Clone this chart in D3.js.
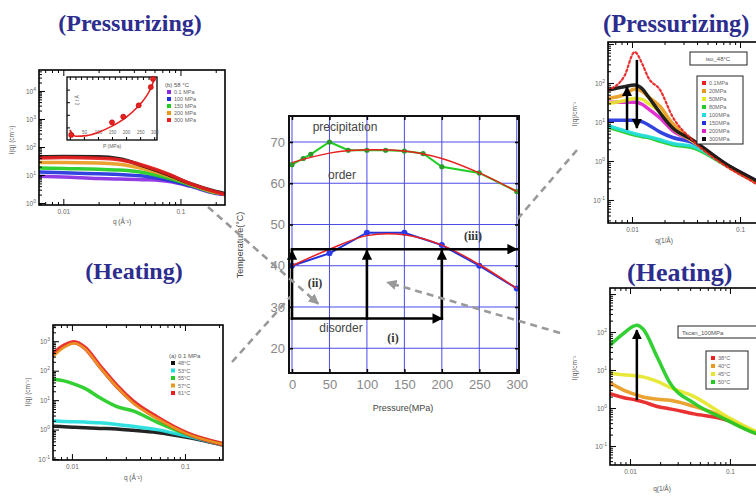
<!doctype html>
<html>
<head>
<meta charset="utf-8">
<title>phase diagram with SANS panels</title>
<script src="https://cdn.jsdelivr.net/npm/d3@7"></script>
<style>
  body { margin: 0; background: #fff; }
  svg { display: block; }
  text { font-family: "Liberation Sans", Arial, sans-serif; }
  .ttl { font-family: "Liberation Serif", "Times New Roman", serif; font-weight: bold; fill: #2d2d8e; }
  .roman { font-family: "Liberation Serif", "Times New Roman", serif; font-weight: bold; fill: #333; }
</style>
</head>
<body>
<script>
// ---- centre chart: temperature vs pressure
var pressureTicks = [0, 50, 100, 150, 200, 250, 300];
var tempTicks = [20, 30, 40, 50, 60, 70];
var upperP = [0, 15, 25, 50, 75, 100, 125, 150, 175, 200, 250, 300];
var upperT = [64.5, 66, 67, 70, 68, 68, 68, 67.8, 67.2, 64, 62.5, 58];
var fitP = [0, 50, 100, 150, 200, 250, 300];
var upperFitT = [65, 67.3, 68.1, 67.8, 66, 62.5, 58];
var lowerP = [0, 50, 100, 150, 200, 250, 300];
var lowerT = [40, 43, 48, 48, 45, 40, 34.5];
var lowerFitT = [40, 44, 47.3, 47.5, 45, 40.3, 34.5];
var pathHighT = 44, pathLowT = 27.2;
var pathRiseP = [0, 100, 200];

// ---- top left: pressurizing at 58 C
var tlQ = [0.006, 0.01, 0.02, 0.03, 0.05, 0.08, 0.12, 0.2, 0.24];
var tlBlack = [45, 46, 45, 38, 20, 10, 5, 2.6, 2.2];
var tlRed = [40, 42, 40, 35, 21, 10.5, 5, 2.5, 2];
var tlOrange = [28, 28, 27, 24, 16, 9, 4.8, 2.4, 2.1];
var tlGreen = [18, 17, 16, 15, 12, 7.5, 4.5, 2.3, 2.1];
var tlBlue = [13, 12, 11, 10.5, 9, 6.5, 4.2, 2.3, 2];
var tlPurple = [9, 8.5, 7.5, 7.2, 6.8, 5.8, 4, 2.2, 2];
var tlLegend = ["0.1 MPa", "100 MPa", "150 MPa", "200 MPa", "300 MPa"];
var insetP = [0, 20, 60, 100, 150, 200, 240, 270, 290, 300];
var insetXi = [16, 6, 7, 12, 22, 36, 52, 68, 84, 97];
var insetMarkP = [5, 150, 190, 245, 288, 296];
var insetMarkXi = [8, 28, 37, 55, 84, 97];

// ---- bottom left: heating at 0.1 MPa
var blQ = [0.0068, 0.0085, 0.0105, 0.013, 0.0177, 0.025, 0.0347, 0.0565, 0.104, 0.217];
var blRed = [360, 700, 930, 600, 140, 30, 9, 2.6, 0.75, 0.32];
var blOrange = [300, 620, 850, 560, 130, 28, 8, 2.4, 0.72, 0.32];
var blGreen = [51, 45, 35, 25, 12, 6, 4.3, 1.8, 0.7, 0.32];
var blCyan = [2, 1.9, 1.85, 1.8, 1.7, 1.5, 1.3, 1, 0.6, 0.3];
var blBlack = [1.3, 1.25, 1.2, 1.15, 1.1, 1.05, 0.95, 0.8, 0.55, 0.3];
var blLegend = ["48°C", "53°C", "55°C", "57°C", "61°C"];

// ---- top right: pressurizing at 48 C
var trQ = [0.006, 0.0085, 0.0106, 0.0125, 0.0141, 0.0182, 0.0238, 0.036, 0.076, 0.137, 0.153];
var trRed = [66, 150, 620, 300, 140, 66, 13.5, 3.5, 0.7, 0.27, 0.22];
var trOrange = [40, 50, 70, 60, 45, 25, 9, 3.5, 0.75, 0.3, 0.25];
var trYellow = [30, 35, 40, 38, 30, 18, 7, 3.3, 0.75, 0.3, 0.25];
var trGreen = [7.4, 5.5, 4.6, 4.2, 4, 3.2, 2.6, 2.2, 0.74, 0.3, 0.26];
var trCyan = [8, 6, 5, 4.5, 4.2, 3.5, 2.8, 2.4, 0.75, 0.3, 0.26];
var trBlue = [11, 11, 11, 10, 8.5, 5.5, 4, 3, 0.78, 0.32, 0.27];
var trMagenta = [32, 32, 32, 28, 22, 12.6, 6, 3.3, 0.78, 0.32, 0.27];
var trBlack = [66, 80, 89, 70, 45, 17, 7, 3.5, 0.8, 0.33, 0.28];
var trLegend = ["0.1MPa", "20MPa", "50MPa", "80MPa", "100MPa", "150MPa", "200MPa", "300MPa"];

// ---- bottom right: heating at 100 MPa
var brQ = [0.0063, 0.0085, 0.0117, 0.0135, 0.0187, 0.0251, 0.0437, 0.093, 0.178, 0.2];
var brGreen = [45, 90, 152, 120, 22, 4.6, 1.35, 0.48, 0.22, 0.2];
var brYellow = [8.3, 7.5, 7, 6.6, 5, 3.5, 2, 0.6, 0.25, 0.22];
var brOrange = [4.6, 3, 2.2, 1.95, 1.7, 1.6, 1.1, 0.55, 0.24, 0.22];
var brRed = [2.4, 1.9, 1.6, 1.45, 1.1, 0.95, 0.7, 0.48, 0.22, 0.2];
var brLegend = ["38°C", "40°C", "45°C", "50°C"];

var C = {
  purple: "#8a2be2", blue: "#2233dd", green: "#22cc22", orange: "#e89a20",
  red: "#e82020", black: "#111", cyan: "#22dddd", yellow: "#e6e62a", magenta: "#dd22cc"
};

var svg = d3.select("body").append("svg").attr("width", 756).attr("height", 496);
svg.append("rect").attr("width", 756).attr("height", 496).attr("fill", "#fff");
var defs = svg.append("defs");

function marker(id, color) {
  defs.append("marker").attr("id", id)
    .attr("viewBox", "0 0 10 10").attr("refX", 9).attr("refY", 5)
    .attr("markerWidth", 4).attr("markerHeight", 4).attr("orient", "auto")
    .append("path").attr("d", "M0,0L10,5L0,10z").attr("fill", color);
}
marker("ah", "#000");
marker("ahg", "#999");

// ---------- titles
svg.append("text").attr("class", "ttl").attr("x", 130).attr("y", 31).attr("text-anchor", "middle")
  .attr("font-size", 24).text("(Pressurizing)");
svg.append("text").attr("class", "ttl").attr("x", 134).attr("y", 279).attr("text-anchor", "middle")
  .attr("font-size", 24).text("(Heating)");
svg.append("text").attr("class", "ttl").attr("x", 603).attr("y", 32)
  .attr("font-size", 24.5).text("(Pressurizing)");
svg.append("text").attr("class", "ttl").attr("x", 627).attr("y", 281)
  .attr("font-size", 26).text("(Heating)");

// ---------- side panels
function supLabel(sel, exps) {
  sel.selectAll(".tick text").each(function(d) {
    var t = d3.select(this);
    var e = Math.round(Math.log10(d));
    t.text("");
    if (Math.abs(Math.log10(d) - e) < 1e-6 && exps.indexOf(e) >= 0) {
      t.append("tspan").text("10");
      t.append("tspan").attr("dy", -3).attr("font-size", 5).text(e);
    }
  });
}

function logPanel(o) {
  var g = svg.append("g");
  var x = d3.scaleLog().domain(o.qDom).range([o.x0, o.x1]);
  var y = d3.scaleLog().domain(o.iDom).range([o.y1, o.y0]);
  defs.append("clipPath").attr("id", "clip" + o.id).append("rect")
    .attr("x", o.x0).attr("y", o.y0).attr("width", o.x1 - o.x0).attr("height", o.y1 - o.y0);

  var line = d3.line().x(function(d) { return x(d[0]); }).y(function(d) { return y(d[1]); })
    .curve(d3.curveMonotoneX);
  var plot = g.append("g").attr("clip-path", "url(#clip" + o.id + ")");
  o.curves.forEach(function(c) {
    plot.append("path").attr("d", line(d3.zip(o.q, c.v)))
      .attr("fill", "none").attr("stroke", c.color).attr("stroke-width", c.w || 3.5)
      .attr("stroke-linecap", "round").attr("stroke-linejoin", "round")
      .attr("stroke-dasharray", c.dash || null).attr("opacity", 0.92);
  });

  // ticks through d3 axes, drawn inward
  var xt = x.ticks(), yt = y.ticks();
  var isDec = function(d) { return Math.abs(Math.log10(d) - Math.round(Math.log10(d))) < 1e-6; };
  var xa = g.append("g").attr("transform", "translate(0," + o.y1 + ")")
    .call(d3.axisBottom(x).tickValues(xt).tickSize(-3).tickPadding(4)
      .tickFormat(function(d) { return o.xLabels.indexOf(d) >= 0 ? String(d) : ""; }));
  xa.selectAll(".tick line").attr("y2", function(d) { return isDec(d) ? -6 : -3; });
  g.append("g").attr("transform", "translate(0," + o.y0 + ")")
    .call(d3.axisTop(x).tickValues(xt).tickSize(-3).tickFormat(""))
    .selectAll(".tick line").attr("y2", function(d) { return isDec(d) ? 6 : 3; });
  var ya = g.append("g").attr("transform", "translate(" + o.x0 + ",0)")
    .call(d3.axisLeft(y).tickValues(yt).tickSize(-3).tickPadding(3));
  ya.selectAll(".tick line").attr("x2", function(d) { return isDec(d) ? 6 : 3; });
  supLabel(ya, o.yExps);
  g.selectAll(".domain").remove();
  g.selectAll(".tick text").attr("font-size", 6.5).attr("fill", "#666");
  g.selectAll(".tick line").attr("stroke", "#000").attr("stroke-width", 1);

  g.append("rect").attr("x", o.x0).attr("y", o.y0).attr("width", o.x1 - o.x0).attr("height", o.y1 - o.y0)
    .attr("fill", "none").attr("stroke", "#000").attr("stroke-width", 1.6);

  g.append("text").attr("x", o.xt[0]).attr("y", o.xt[1]).attr("text-anchor", "middle")
    .attr("font-size", 6.5).attr("fill", "#555").text(o.xTitle);
  g.append("text").attr("transform", "translate(" + o.yt[0] + "," + o.yt[1] + ") rotate(-90)")
    .attr("text-anchor", "middle").attr("font-size", 6.5).attr("fill", "#555").text(o.yTitle);
  return { g: g, x: x, y: y };
}

function legend(g, x0, y0, dy, names, colors, head, box) {
  if (box) {
    g.append("rect").attr("x", box[0]).attr("y", box[1]).attr("width", box[2]).attr("height", box[3])
      .attr("fill", "#fff").attr("stroke", "#222").attr("stroke-width", 1);
  }
  if (head) {
    g.append("text").attr("x", x0 - 4).attr("y", y0 - dy + 2).attr("font-size", 6).attr("fill", "#555").text(head);
  }
  names.forEach(function(n, i) {
    g.append("rect").attr("x", x0 - 2).attr("y", y0 + i * dy - 2).attr("width", 4).attr("height", 4)
      .attr("fill", colors[i]);
    g.append("text").attr("x", x0 + 5).attr("y", y0 + i * dy + 2).attr("font-size", 5.5)
      .attr("fill", "#666").text(n);
  });
}

// top left
var tl = logPanel({
  id: "tl", x0: 39, x1: 225, y0: 70, y1: 205,
  qDom: [0.0062, 0.24], iDom: [0.85, 56000],
  q: tlQ,
  curves: [
    { v: tlPurple, color: C.purple }, { v: tlBlue, color: C.blue }, { v: tlGreen, color: C.green },
    { v: tlOrange, color: C.orange }, { v: tlBlack, color: C.black }, { v: tlRed, color: C.red }
  ],
  xLabels: [0.01, 0.1], yExps: [0, 1, 2, 3, 4],
  xTitle: "q (Å⁻¹)", xt: [122, 224], yTitle: "I(q) (cm⁻¹)", yt: [14, 140]
});
legend(tl.g, 169, 92, 7, tlLegend, [C.purple, C.blue, C.green, C.orange, C.red], "(b) 58 °C");

// inset of top left
var ix = d3.scaleLinear().domain([-10, 310]).range([67, 157]);
var iy = d3.scaleLinear().domain([0, 100]).range([140, 77]);
var ins = tl.g.append("g");
ins.append("rect").attr("x", 67).attr("y", 77).attr("width", 90).attr("height", 63)
  .attr("fill", "#fff").attr("stroke", "#000").attr("stroke-width", 1.3);
ins.append("g").attr("transform", "translate(0,140)")
  .call(d3.axisBottom(ix).tickValues([0, 50, 100, 150, 200, 250, 300]).tickSize(-3).tickPadding(-9))
  .call(function(s) { s.select(".domain").remove(); s.selectAll("text").attr("font-size", 4.5).attr("fill", "#666"); });
ins.append("g").attr("transform", "translate(67,0)")
  .call(d3.axisLeft(iy).tickValues([20, 40, 60, 80]).tickSize(-3).tickFormat(""))
  .call(function(s) { s.select(".domain").remove(); });
ins.append("g").attr("transform", "translate(0,77)")
  .call(d3.axisTop(ix).ticks(12).tickSize(-3).tickFormat(""))
  .call(function(s) { s.select(".domain").remove(); });
ins.append("path").attr("d", d3.line().x(function(d) { return ix(d[0]); }).y(function(d) { return iy(d[1]); })
    .curve(d3.curveMonotoneX)(d3.zip(insetP, insetXi)))
  .attr("fill", "none").attr("stroke", C.red).attr("stroke-width", 1.6);
ins.selectAll("circle").data(d3.zip(insetMarkP, insetMarkXi)).enter().append("circle")
  .attr("cx", function(d) { return ix(d[0]); }).attr("cy", function(d) { return iy(d[1]); })
  .attr("r", 2.6).attr("fill", C.red).attr("stroke", "#a00").attr("stroke-width", 0.5);
ins.append("text").attr("transform", "translate(79,100) rotate(-90)").attr("text-anchor", "middle")
  .attr("font-size", 5).attr("fill", "#666").text("ξ / Å");
ins.append("text").attr("x", 112).attr("y", 148).attr("text-anchor", "middle")
  .attr("font-size", 5).attr("fill", "#666").text("P (MPa)");

// bottom left
var bl = logPanel({
  id: "bl", x0: 53, x1: 223, y0: 325, y1: 460,
  qDom: [0.0068, 0.217], iDom: [0.093, 3550],
  q: blQ,
  curves: [
    { v: blBlack, color: C.black }, { v: blCyan, color: C.cyan }, { v: blGreen, color: C.green },
    { v: blRed, color: C.red, w: 4.5 }, { v: blOrange, color: C.orange, w: 2.5 }
  ],
  xLabels: [0.01, 0.1], yExps: [-1, 0, 1, 2, 3],
  xTitle: "q (Å⁻¹)", xt: [133, 480], yTitle: "I(q) (cm⁻¹)", yt: [30, 392]
});
legend(bl.g, 173, 363, 7.5, blLegend, [C.black, C.cyan, C.green, C.orange, C.red], "(a) 0.1 MPa");

// top right
var tr = logPanel({
  id: "tr", x0: 608, x1: 760, y0: 42, y1: 223,
  qDom: [0.006, 0.153], iDom: [0.0257, 1122],
  q: trQ,
  curves: [
    { v: trGreen, color: C.green }, { v: trCyan, color: C.cyan }, { v: trBlue, color: C.blue },
    { v: trMagenta, color: C.magenta }, { v: trYellow, color: C.yellow }, { v: trOrange, color: C.orange },
    { v: trBlack, color: C.black }, { v: trRed, color: C.red, w: 2.2, dash: "2,2.5" }
  ],
  xLabels: [0.01, 0.1], yExps: [-1, 0, 1, 2],
  xTitle: "q(1/Å)", xt: [664, 243], yTitle: "I(q)/cm⁻¹", yt: [577, 114]
});
legend(tr.g, 704, 83, 8,
  trLegend, [C.red, C.orange, C.yellow, C.green, C.cyan, C.blue, C.magenta, C.black], null, [697, 76, 46, 68]);
tr.g.append("rect").attr("x", 690).attr("y", 52).attr("width", 57).attr("height", 13)
  .attr("fill", "#fff").attr("stroke", "#222");
tr.g.append("text").attr("x", 718).attr("y", 61).attr("text-anchor", "middle").attr("font-size", 6)
  .attr("fill", "#555").text("iso_48°C");
tr.g.append("line").attr("x1", tr.x(0.009)).attr("x2", tr.x(0.009)).attr("y1", tr.y(6.2)).attr("y2", tr.y(79))
  .attr("stroke", "#000").attr("stroke-width", 2.5).attr("marker-end", "url(#ah)");
tr.g.append("line").attr("x1", tr.x(0.0111)).attr("x2", tr.x(0.0111)).attr("y1", tr.y(390)).attr("y2", tr.y(7))
  .attr("stroke", "#000").attr("stroke-width", 2.5).attr("marker-end", "url(#ah)");

// bottom right
var br = logPanel({
  id: "br", x0: 610, x1: 760, y0: 288, y1: 465,
  qDom: [0.0063, 0.2], iDom: [0.0316, 1445],
  q: brQ,
  curves: [
    { v: brRed, color: C.red }, { v: brOrange, color: C.orange },
    { v: brYellow, color: C.yellow }, { v: brGreen, color: C.green }
  ],
  xLabels: [0.01, 0.1], yExps: [-1, 0, 1, 2],
  xTitle: "q(1/Å)", xt: [662, 491], yTitle: "I(q)/cm⁻¹", yt: [577, 368]
});
legend(br.g, 713, 358, 8, brLegend, [C.red, C.orange, C.yellow, C.green], null, [706, 351, 42, 38]);
br.g.append("rect").attr("x", 678).attr("y", 326).attr("width", 80).attr("height", 12)
  .attr("fill", "#fff").attr("stroke", "#222");
br.g.append("text").attr("x", 682).attr("y", 334.5).attr("font-size", 6)
  .attr("fill", "#555").text("Tscan_100MPa");
br.g.append("line").attr("x1", br.x(0.0117)).attr("x2", br.x(0.0117)).attr("y1", br.y(1.6)).attr("y2", br.y(112))
  .attr("stroke", "#000").attr("stroke-width", 2.5).attr("marker-end", "url(#ah)");

// ---------- centre chart
var cx = d3.scaleLinear().domain([-4, 303]).range([289, 519]);
var cy = d3.scaleLinear().domain([14, 76.3]).range([373, 116]);
var cg = svg.append("g");
cg.append("rect").attr("x", 289).attr("y", 116).attr("width", 230).attr("height", 257).attr("fill", "#fff");

cg.selectAll(".vg").data(pressureTicks).enter().append("line")
  .attr("x1", cx).attr("x2", cx).attr("y1", 116).attr("y2", 373)
  .attr("stroke", "#4a4ae6").attr("stroke-width", 1);
cg.selectAll(".hg").data(tempTicks).enter().append("line")
  .attr("y1", cy).attr("y2", cy).attr("x1", 289).attr("x2", 519)
  .attr("stroke", "#4a4ae6").attr("stroke-width", 1);

var axB = cg.append("g").attr("transform", "translate(0,373)")
  .call(d3.axisBottom(cx).tickValues(pressureTicks).tickSize(-4).tickPadding(7));
var axL = cg.append("g").attr("transform", "translate(289,0)")
  .call(d3.axisLeft(cy).tickValues(tempTicks).tickSize(-4).tickPadding(4));
cg.append("g").attr("transform", "translate(0,116)")
  .call(d3.axisTop(cx).tickValues(pressureTicks).tickSize(-4).tickFormat(""));
cg.append("g").attr("transform", "translate(519,0)")
  .call(d3.axisRight(cy).tickValues(tempTicks).tickSize(-4).tickFormat(""));
cg.selectAll(".domain").remove();
cg.selectAll(".tick line").attr("stroke", "#000").attr("stroke-width", 1.5);
cg.selectAll(".tick text").attr("font-size", 13).attr("fill", "#888");

var lin = d3.line().x(function(d) { return cx(d[0]); }).y(function(d) { return cy(d[1]); });
var smooth = d3.line().x(function(d) { return cx(d[0]); }).y(function(d) { return cy(d[1]); })
  .curve(d3.curveCatmullRom.alpha(0.5));

// upper boundary
cg.append("path").attr("d", lin(d3.zip(upperP, upperT))).attr("fill", "none")
  .attr("stroke", C.green).attr("stroke-width", 2);
cg.selectAll(".gm").data(d3.zip(upperP, upperT)).enter().append("circle")
  .attr("cx", function(d) { return cx(d[0]); }).attr("cy", function(d) { return cy(d[1]); })
  .attr("r", 2.6).attr("fill", "#2a9a2a");
cg.append("path").attr("d", smooth(d3.zip(fitP, upperFitT))).attr("fill", "none")
  .attr("stroke", C.red).attr("stroke-width", 1.5);

// lower boundary
cg.append("path").attr("d", lin(d3.zip(lowerP, lowerT))).attr("fill", "none")
  .attr("stroke", C.blue).attr("stroke-width", 2);
cg.selectAll(".bm").data(d3.zip(lowerP, lowerT)).enter().append("circle")
  .attr("cx", function(d) { return cx(d[0]); }).attr("cy", function(d) { return cy(d[1]); })
  .attr("r", 3).attr("fill", "#2a3aee");
cg.append("path").attr("d", smooth(d3.zip(fitP, lowerFitT))).attr("fill", "none")
  .attr("stroke", C.red).attr("stroke-width", 1.5);

// thermodynamic paths
function arrow(p1, t1, p2, t2, head) {
  cg.append("line").attr("x1", cx(p1)).attr("y1", cy(t1)).attr("x2", cx(p2)).attr("y2", cy(t2))
    .attr("stroke", "#000").attr("stroke-width", 2.6).attr("stroke-linecap", "square")
    .attr("marker-end", head ? "url(#ah)" : null);
}
arrow(0, pathHighT, 300, pathHighT, true);
arrow(0, pathLowT, 200, pathLowT, true);
pathRiseP.forEach(function(p) { arrow(p, pathLowT, p, pathHighT - 0.3, true); });

cg.append("rect").attr("x", 289).attr("y", 116).attr("width", 230).attr("height", 257)
  .attr("fill", "none").attr("stroke", "#111").attr("stroke-width", 2);

// region labels
cg.append("text").attr("x", 345).attr("y", 131).attr("text-anchor", "middle").attr("font-size", 12)
  .attr("fill", "#444").text("precipitation");
cg.append("text").attr("x", 342).attr("y", 179).attr("text-anchor", "middle").attr("font-size", 12)
  .attr("fill", "#444").text("order");
cg.append("text").attr("x", 341).attr("y", 332).attr("text-anchor", "middle").attr("font-size", 12)
  .attr("fill", "#444").text("disorder");
cg.append("text").attr("class", "roman").attr("x", 393).attr("y", 342).attr("text-anchor", "middle")
  .attr("font-size", 12).text("(i)");
cg.append("text").attr("class", "roman").attr("x", 315).attr("y", 287).attr("text-anchor", "middle")
  .attr("font-size", 12).text("(ii)");
cg.append("text").attr("class", "roman").attr("x", 473).attr("y", 240).attr("text-anchor", "middle")
  .attr("font-size", 12).text("(iii)");

svg.append("text").attr("x", 403).attr("y", 411).attr("text-anchor", "middle").attr("font-size", 9)
  .attr("fill", "#444").text("Pressure(MPa)");
svg.append("text").attr("transform", "translate(243,245) rotate(-90)").attr("text-anchor", "middle")
  .attr("font-size", 9).attr("fill", "#444").text("Temperature(°C)");

// ---------- leader lines from the panels to the paths
var leaders = [
  { from: [208, 207], to: [35, 30.8], head: true },
  { from: [232, 362], to: [-2, 32.5], head: false },
  { from: [560, 333], to: [127, 36], head: true },
  { from: [577, 150], to: [297, 50.5], head: false }
];
leaders.forEach(function(l) {
  svg.append("line").attr("x1", l.from[0]).attr("y1", l.from[1])
    .attr("x2", cx(l.to[0])).attr("y2", cy(l.to[1]))
    .attr("stroke", "#999").attr("stroke-width", 2.6).attr("stroke-dasharray", "7,5")
    .attr("marker-end", l.head ? "url(#ahg)" : null);
});
</script>
</body>
</html>
